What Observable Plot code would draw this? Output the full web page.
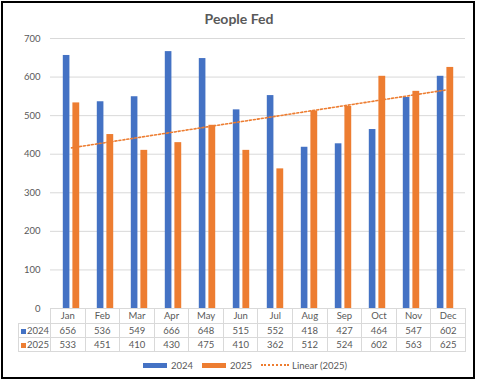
<!DOCTYPE html>
<html><head><meta charset="utf-8">
<script src="https://cdn.jsdelivr.net/npm/d3@7"></script>
<script src="https://cdn.jsdelivr.net/npm/@observablehq/plot@0.6"></script>
<style>
body{margin:0;background:#fff;font-family:Lato,"Open Sans",sans-serif;}
#frame{position:relative;width:478px;height:383px;overflow:hidden;background:#fff;}
#frame svg{position:absolute;left:0;top:0;}
#border{position:absolute;left:1px;top:1px;width:474px;height:378px;border:2px solid #000;box-sizing:border-box;pointer-events:none;}
#title{position:absolute;left:0;width:478px;top:10px;text-align:center;font-weight:bold;font-size:14px;color:#595959;}
#tbl{position:absolute;border-collapse:collapse;table-layout:fixed;font-size:9.5px;color:#595959;}
#tbl td{border:1px solid #d9d9d9;text-align:center;padding:0;overflow:hidden;white-space:nowrap;}
#tbl td.lab{text-align:left;padding-left:2px;}
.sw{display:inline-block;width:5px;height:5px;margin-right:1px;vertical-align:0px;}
#legend{position:absolute;top:359px;left:0;width:478px;font-size:9.5px;color:#595959;}
.li{position:absolute;top:0;display:flex;align-items:center;height:12px;}
.lsw{display:inline-block;width:24px;height:5px;margin-right:4px;}
.ldot{display:inline-block;width:28px;height:0;border-top:2px dotted #ED7D31;margin-right:3px;}
</style>
</head><body>
<div id="frame"></div>
<script>
const months = ["Jan","Feb","Mar","Apr","May","Jun","Jul","Aug","Sep","Oct","Nov","Dec"];
const values2024 = [656,536,549,666,648,515,552,418,427,464,547,602];
const values2025 = [533,451,410,430,475,410,362,512,524,602,563,625];
const yTicks = [0,100,200,300,400,500,600,700];
const seriesNames = ["2024","2025"];
const trendName = "Linear (2025)";
const title = "People Fed";
const colors = ["#4472C4","#ED7D31"];

const d2024 = months.map((m,i)=>({month:m, value:values2024[i]}));
const d2025 = months.map((m,i)=>({month:m, value:values2025[i]}));
// Excel linear trendline (least squares on index 1..12)
const xs = values2025.map((_,i)=>i+1);
const mx = d3.mean(xs), my = d3.mean(values2025);
const slope = d3.sum(xs.map((x,i)=>(x-mx)*(values2025[i]-my))) / d3.sum(xs.map(x=>(x-mx)**2));
const icpt = my - slope*mx;
const trend = months.map((m,i)=>({month:m, value: icpt + slope*(i+1)}));

const W = 478, H = 383, ML = 50, MR = 13;
const bw = (W-ML-MR)/months.length;

const plot = Plot.plot({
  width: W, height: H,
  marginLeft: ML, marginRight: MR, marginTop: 38, marginBottom: 75,
  style: {fontFamily: "Lato, 'Open Sans', sans-serif", fontSize: "9.5px", color: "#595959", background: "transparent"},
  x: {type: "band", domain: months, paddingInner: 0, paddingOuter: 0, axis: null},
  y: {domain: [0,700], axis: null},
  marks: [
    Plot.ruleY(yTicks, {stroke: "#d9d9d9", strokeWidth: 1}),
    Plot.axisY(yTicks, {tickSize: 0, tickPadding: 10, fill: "#595959", label: null, fontSize: 9.5}),
    Plot.barY(d2024, {x: "month", y: "value", fill: colors[0], insetLeft: 8.8, insetRight: bw-16}),
    Plot.barY(d2025, {x: "month", y: "value", fill: colors[1], insetLeft: 18.4, insetRight: bw-25.8}),
    Plot.line(trend, {x: "month", y: "value", stroke: colors[1], strokeWidth: 1.6, strokeDasharray: "2 2"})
  ]
});
const frame = document.getElementById("frame");
frame.appendChild(plot);

const t = document.createElement("div"); t.id = "title"; t.textContent = title; frame.appendChild(t);

// data table aligned to the x band scale
const xsc = plot.scale("x");
const y0 = plot.scale("y").apply(0);
const left = xsc.range[0];
const tbl = document.createElement("table"); tbl.id = "tbl";
tbl.style.left = "18px"; tbl.style.top = (y0-0.5) + "px";
const cg = document.createElement("colgroup");
const c0 = document.createElement("col"); c0.style.width = (left-18)+"px"; cg.appendChild(c0);
months.forEach(()=>{const c=document.createElement("col"); c.style.width = bw+"px"; cg.appendChild(c);});
tbl.appendChild(cg);
tbl.style.width = (left-18 + bw*months.length) + "px";
const hdr = document.createElement("tr"); hdr.style.height = "15px";
const e = document.createElement("td"); e.style.border = "none"; e.style.borderRight = "1px solid #d9d9d9"; hdr.appendChild(e);
months.forEach(m=>{const td=document.createElement("td"); td.textContent=m; hdr.appendChild(td);});
tbl.appendChild(hdr);
[values2024, values2025].forEach((vals,k)=>{
  const tr = document.createElement("tr"); tr.style.height = "14px";
  const lab = document.createElement("td"); lab.className = "lab";
  lab.innerHTML = `<span class="sw" style="background:${colors[k]}"></span>${seriesNames[k]}`;
  tr.appendChild(lab);
  vals.forEach(v=>{const td=document.createElement("td"); td.textContent=v; tr.appendChild(td);});
  tbl.appendChild(tr);
});
frame.appendChild(tbl);

// legend
const lg = document.createElement("div"); lg.id = "legend";
lg.innerHTML = `
<div class="li" style="left:143px"><span class="lsw" style="background:${colors[0]}"></span>${seriesNames[0]}</div>
<div class="li" style="left:202px"><span class="lsw" style="background:${colors[1]}"></span>${seriesNames[1]}</div>
<div class="li" style="left:261px"><span class="ldot"></span>${trendName}</div>`;
frame.appendChild(lg);

const b = document.createElement("div"); b.id = "border"; frame.appendChild(b);
</script>
</body></html>
